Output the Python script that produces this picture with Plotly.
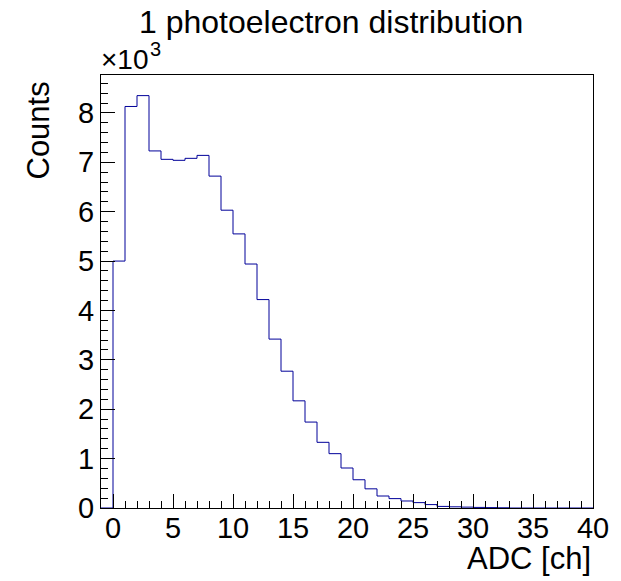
import plotly.graph_objects as go

# Histogram data (bin width 1 ADC channel)
bin_edges = list(range(-1, 41))  # -1 .. 40
counts = [0, 5000, 8130, 8350, 7230, 7060, 7040, 7080, 7140, 6720,
          6030, 5550, 4940, 4220, 3420, 2770, 2170, 1740, 1330, 1100,
          810, 572, 388, 243, 190, 142, 109, 69, 32, 24,
          18, 12, 8, 5, 0, 0, 0, 0, 0, 0, 0]
y_tick_vals = [0, 1000, 2000, 3000, 4000, 5000, 6000, 7000, 8000]
y_tick_text = ["0", "1", "2", "3", "4", "5", "6", "7", "8"]
x_tick_vals = [0, 5, 10, 15, 20, 25, 30, 35, 40]
x_tick_text = ["0", "5", "10", "15", "20", "25", "30", "35", "40"]

FONT = "Liberation Sans, Arial, Helvetica, sans-serif"

L, R, T, B = 101, 597, 75, 508
PW, PH = R - L, B - T

fig = go.Figure()
fig.add_trace(go.Scatter(
    x=bin_edges,
    y=counts + [counts[-1]],
    mode="lines",
    line=dict(shape="hv", color="#000099", width=1),
    hoverinfo="skip",
    showlegend=False,
))

ymax = max(counts) * 1.05

fig.update_layout(
    width=621, height=581,
    margin=dict(l=L, r=621 - R, t=T, b=581 - B),
    paper_bgcolor="white", plot_bgcolor="white",
    font=dict(family=FONT, color="black", size=29),
    showlegend=False,
)
fig.update_xaxes(
    range=[-1, 40],
    tickvals=x_tick_vals, ticktext=x_tick_text,
    ticks="inside", ticklen=14, tickwidth=1, tickcolor="black",
    minor=dict(dtick=1, tick0=0, ticks="inside", ticklen=7, tickcolor="black", tickwidth=1),
    showline=True, linecolor="black", linewidth=1, mirror=True,
    showgrid=False, zeroline=False,
    tickfont=dict(size=29),
    ticklabelstandoff=-6,
)
fig.update_yaxes(
    range=[0, ymax],
    tickvals=y_tick_vals, ticktext=y_tick_text,
    ticks="inside", ticklen=14, tickwidth=1, tickcolor="black",
    minor=dict(dtick=200, tick0=0, ticks="inside", ticklen=7, tickcolor="black", tickwidth=1),
    showline=True, linecolor="black", linewidth=1, mirror=True,
    showgrid=False, zeroline=False,
    tickfont=dict(size=29),
)

# Title
fig.add_annotation(text="1 photoelectron distribution", xref="paper", yref="paper",
                   x=(333 - L) / PW, y=1 + (T - 42) / PH,
                   xanchor="center", yanchor="bottom", showarrow=False,
                   font=dict(size=32, family=FONT))
# Axis titles
fig.add_annotation(text="ADC [ch]", xref="paper", yref="paper",
                   x=1.0, y=-(539 - B) / PH,
                   xanchor="right", yanchor="top", showarrow=False,
                   font=dict(size=31, family=FONT))
fig.add_annotation(text="Counts", xref="paper", yref="paper", textangle=-90,
                   x=-(L - 38) / PW, y=1 - (80 - T) / PH,
                   xanchor="center", yanchor="top", showarrow=False,
                   font=dict(size=31, family=FONT))
# Exponent label: "×10" and superscript "3"
fig.add_annotation(text="×10", xref="paper", yref="paper",
                   x=(L - 2) / PW - L / PW + 0.0, y=1.0 - 2 / PH,
                   xanchor="left", yanchor="bottom", showarrow=False,
                   font=dict(size=28, family=FONT))
fig.add_annotation(text="3", xref="paper", yref="paper",
                   x=(148 - L) / PW, y=1.0 + (T - 62) / PH,
                   xanchor="left", yanchor="bottom", showarrow=False,
                   font=dict(size=20, family=FONT))

fig.write_html("out.html")
